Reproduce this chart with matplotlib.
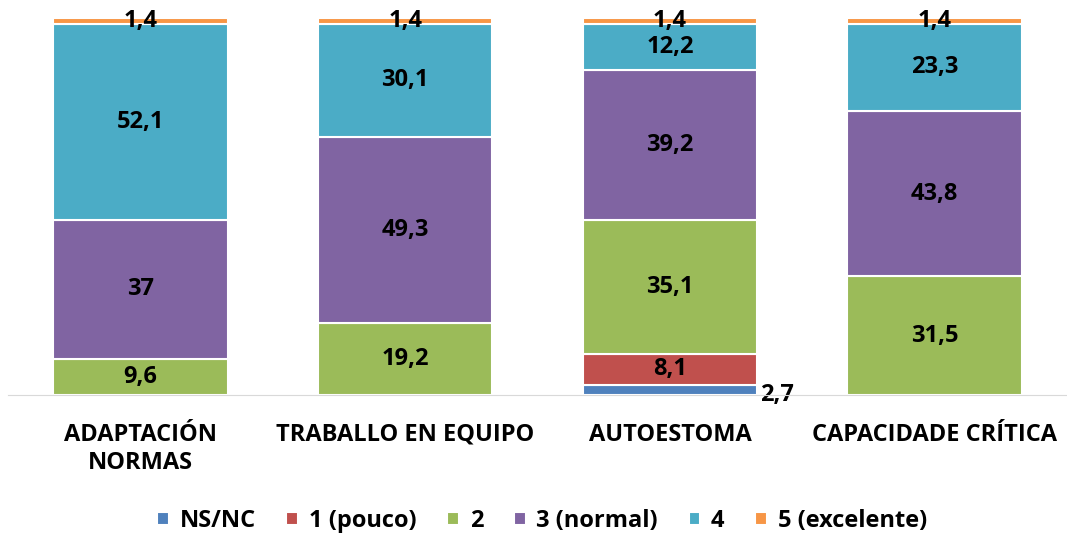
import matplotlib.pyplot as plt
import numpy as np

categories = ['ADAPTACIÓN\nNORMAS', 'TRABALLO EN EQUIPO', 'AUTOESTOMA', 'CAPACIDADE CRÍTICA']
series_names = ['NS/NC', '1 (pouco)', '2', '3 (normal)', '4', '5 (excelente)']
ns_nc = [0, 0, 2.7, 0]
pouco = [0, 0, 8.1, 0]
dous = [9.6, 19.2, 35.1, 31.5]
normal = [37, 49.3, 39.2, 43.8]
catro = [52.1, 30.1, 12.2, 23.3]
excelente = [1.4, 1.4, 1.4, 1.4]
colors = ['#4F81BD', '#C0504D', '#9BBB59', '#8064A2', '#4BACC6', '#F79646']

plt.rcParams['font.family'] = ['Open Sans', 'DejaVu Sans']

data = np.array([ns_nc, pouco, dous, normal, catro, excelente])
totals = data.sum(axis=0)
pct = data / totals * 100

fig = plt.figure(figsize=(10.67, 5.38), dpi=100)
ax = fig.add_axes([0.0075, 0.266, 0.9925, 0.7])

x = np.arange(len(categories))
bottom = np.zeros(len(categories))
for i, name in enumerate(series_names):
    ax.bar(x, pct[i], 0.66, bottom=bottom, color=colors[i], edgecolor='white',
           linewidth=1.5, label=name, zorder=2)
    for j in range(len(categories)):
        v = data[i, j]
        if v == 0:
            continue
        txt = ('%g' % v).replace('.', ',')
        if i == 0:
            ax.text(x[j] + 0.33 + 0.01, bottom[j], txt, ha='left', va='center',
                    fontsize=17, fontweight='bold', color='black')
        else:
            ax.text(x[j], bottom[j] + pct[i, j] / 2, txt, ha='center', va='center',
                    fontsize=17, fontweight='bold', color='black')
    bottom += pct[i]

ax.set_xlim(-0.5, 3.5)
ax.set_ylim(0, 100)
ax.set_yticks([])
for s in ['top', 'right', 'left']:
    ax.spines[s].set_visible(False)
ax.spines['bottom'].set_color('#D9D9D9')
ax.spines['bottom'].set_zorder(3)
ax.set_xticks(x)
ax.set_xticklabels(categories, fontsize=17, fontweight='bold', linespacing=1.25)
ax.tick_params(axis='x', length=0, pad=20)

fig.legend(*ax.get_legend_handles_labels(), loc='center', bbox_to_anchor=(0.508, 0.032),
           ncol=6, frameon=False, handlelength=0.5, handleheight=0.5,
           handletextpad=0.45, columnspacing=1.3, prop={'size': 17, 'weight': 'bold'})

fig.savefig('out.png', dpi=100)
